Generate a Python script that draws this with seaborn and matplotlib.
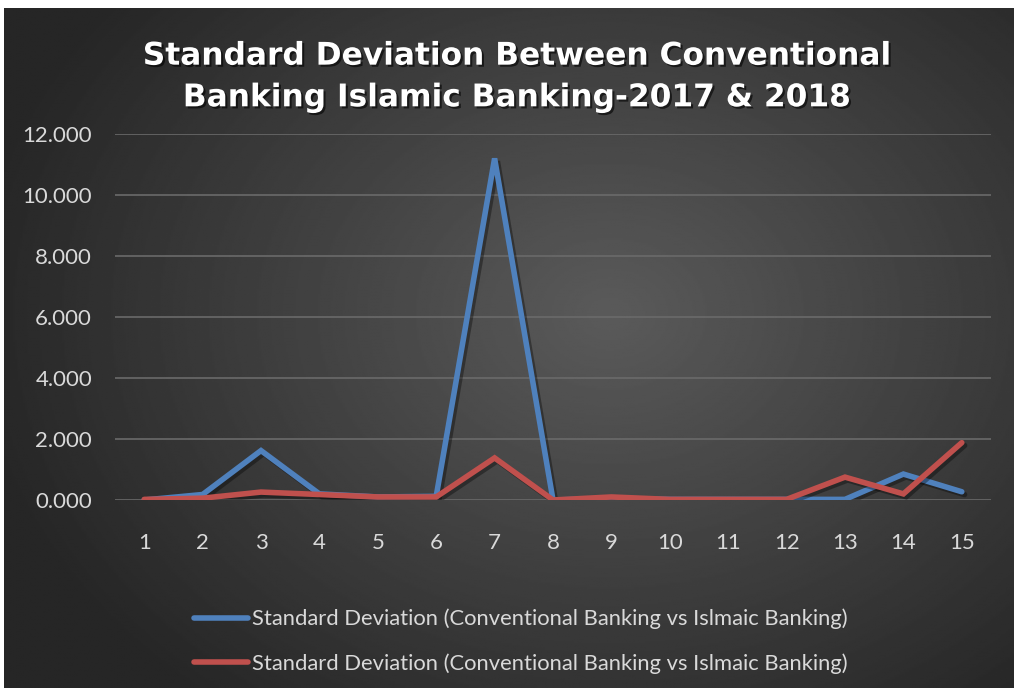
import numpy as np
import pandas as pd
import matplotlib
matplotlib.use("Agg")
import matplotlib.pyplot as plt
import matplotlib.patheffects as pe
import seaborn as sns

categories = list(range(1, 16))
blue_values = [0.00, 0.18, 1.62, 0.20, 0.10, 0.12, 11.20, 0.00, 0.05, 0.02, 0.02, 0.02, 0.02, 0.85, 0.27]
red_values = [0.02, 0.06, 0.26, 0.18, 0.10, 0.10, 1.38, 0.00, 0.10, 0.02, 0.02, 0.02, 0.75, 0.20, 1.88]
series_label = "Standard Deviation (Conventional Banking vs Islmaic Banking)"
y_ticks = [0, 2, 4, 6, 8, 10, 12]
y_tick_labels = ["0.000", "2.000", "4.000", "6.000", "8.000", "10.000", "12.000"]
title_text = "Standard Deviation Between Conventional\nBanking Islamic Banking-2017 & 2018"

sns.set_theme(style="dark")
plt.rcParams["font.family"] = ["Lato", "DejaVu Sans"]

W, H = 1014, 688
fig = plt.figure(figsize=(W / 100, H / 100), dpi=100)
fig.patch.set_facecolor("white")

# radial gradient background (chart area)
bg = fig.add_axes([4 / W, 0, 1 - 4 / W, 1 - 8 / H])
yy, xx = np.mgrid[0:1:400j, 0:1:600j]
r = np.sqrt(((xx - 0.6) / 0.65) ** 2 + ((yy - 0.45) / 0.75) ** 2)
val = np.clip(0.355 - 0.21 * r, 0.15, 0.36)
bg.imshow(val, cmap="gray", vmin=0, vmax=1, aspect="auto", extent=[0, 1, 0, 1], interpolation="bilinear")
bg.set_axis_off()
bg.set_zorder(0)

df = pd.DataFrame({"cat": categories, "blue": blue_values, "red": red_values})

ax = fig.add_axes([115 / W, 1 - 500 / H, (991 - 115) / W, (500 - 134) / H])
ax.set_zorder(1)
ax.patch.set_alpha(0)
shadow = [pe.SimpleLineShadow(offset=(2, -2), shadow_color="black", alpha=0.35), pe.Normal()]
sns.lineplot(data=df, x="cat", y="blue", ax=ax, color="#4F81BD", linewidth=4.0,
             label=series_label, path_effects=shadow, solid_capstyle="round", solid_joinstyle="miter")
sns.lineplot(data=df, x="cat", y="red", ax=ax, color="#C0504D", linewidth=4.0,
             label=series_label, path_effects=shadow, solid_capstyle="round", solid_joinstyle="miter")

ax.set_xlim(0.5, 15.5)
ax.set_ylim(0, 12)
ax.set_xticks(categories)
ax.set_xticklabels([str(c) for c in categories])
ax.set_yticks(y_ticks)
ax.set_yticklabels(y_tick_labels)
ax.tick_params(axis="both", colors="#d9d9d9", labelsize=16, length=0)
ax.tick_params(axis="x", pad=24)
ax.tick_params(axis="y", pad=16.5)
ax.set_xlabel("")
ax.set_ylabel("")
ax.grid(axis="y", color="#6a6a6a", linewidth=1.2)
ax.grid(axis="x", visible=False)
for s in ax.spines.values():
    s.set_visible(False)

handles, labels = ax.get_legend_handles_labels()
ax.legend_.remove()
leg = fig.legend(handles, labels, loc="upper left", bbox_to_anchor=(174 / W, 1 - 589 / H),
                 frameon=False, fontsize=15.8, labelcolor="#d9d9d9", handlelength=2.45,
                 handletextpad=0.2, labelspacing=1.08)
for line in leg.get_lines():
    line.set_path_effects([])
    line.set_linewidth(4.0)

fig.text(0.51, 1 - 77 / H, title_text, ha="center", va="center", color="white",
         fontsize=22.5, fontweight="bold", linespacing=1.55,
         family=["DejaVu Sans"],
         path_effects=[pe.withSimplePatchShadow(offset=(1.5, -1.5), shadow_rgbFace="black", alpha=0.6)])

fig.savefig("out.png", dpi=100)
